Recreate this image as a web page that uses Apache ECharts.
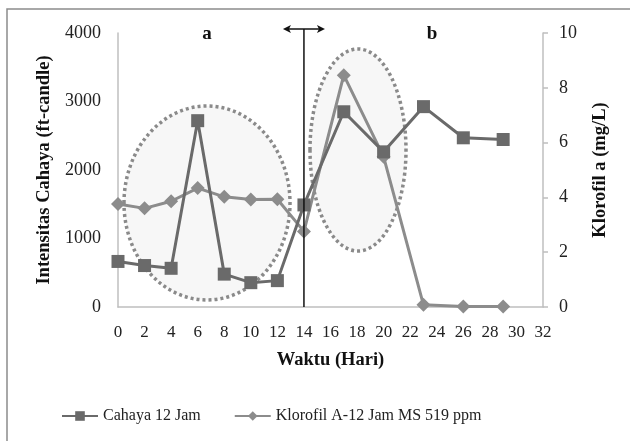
<!DOCTYPE html>
<html><head><meta charset="utf-8">
<script src="https://cdn.jsdelivr.net/npm/echarts@6/dist/echarts.min.js"></script>
<style>html,body{margin:0;padding:0;background:#fff}#c{width:630px;height:441px}</style>
</head><body><div id="c"></div>
<script>
const days = [0, 2, 4, 6, 8, 10, 12, 14, 17, 20, 23, 26, 29];
const cahaya = [665, 605, 565, 2720, 480, 355, 385, 1490, 2850, 2265, 2925, 2470, 2445];
const klorofil = [3.76, 3.6, 3.86, 4.34, 4.02, 3.92, 3.93, 2.76, 8.46, 5.48, 0.08, 0.02, 0.02];
const xTicks = {min: 0, max: 32, step: 2};
const leftTicks = {min: 0, max: 4000, step: 1000};
const rightTicks = {min: 0, max: 10, step: 2};
const seriesNames = ['Cahaya 12 Jam', 'Klorofil A-12 Jam MS 519 ppm'];
const splitDay = 14;

const F = 'Liberation Serif';
const chart = echarts.init(document.getElementById('c'), null, {renderer: 'canvas'});
const axisLine = {show: true, lineStyle: {color: '#bfbfbf', width: 1.5}};
const titleStyle = {fontFamily: F, fontSize: 18.5, fontWeight: 'bold', color: '#111'};
chart.setOption({
  animation: false,
  textStyle: {fontFamily: F},
  grid: {left: 118, right: 87, top: 33, bottom: 134},
  legend: {
    left: 56, top: 403, itemGap: 33, itemWidth: 36, itemHeight: 12,
    textStyle: {fontFamily: F, fontSize: 16, color: '#222'},
    data: seriesNames
  },
  xAxis: {
    type: 'value', min: xTicks.min, max: xTicks.max, interval: xTicks.step,
    axisLine: axisLine, axisTick: {show: false}, splitLine: {show: false},
    axisLabel: {fontFamily: F, fontSize: 17, color: '#222', margin: 17},
    name: 'Waktu (Hari)', nameLocation: 'middle', nameGap: 44,
    nameTextStyle: titleStyle
  },
  yAxis: [{
    type: 'value', min: leftTicks.min, max: leftTicks.max, interval: leftTicks.step,
    axisLine: axisLine, axisTick: {show: false}, splitLine: {show: false},
    axisLabel: {fontFamily: F, fontSize: 18, color: '#222', margin: 17, formatter: v => String(v)},
    name: 'Intensitas Cahaya (ft-candle)', nameLocation: 'middle', nameGap: 59, nameRotate: 90,
    nameTextStyle: titleStyle
  }, {
    type: 'value', min: rightTicks.min, max: rightTicks.max, interval: rightTicks.step,
    position: 'right',
    axisLine: axisLine, axisTick: {show: true, length: 5, lineStyle: {color: '#bfbfbf', width: 1.5}}, splitLine: {show: false},
    axisLabel: {fontFamily: F, fontSize: 18, color: '#222', margin: 16},
    name: 'Klorofil a (mg/L)', nameLocation: 'middle', nameGap: 48, nameRotate: 90,
    nameTextStyle: titleStyle
  }],
  series: [{
    name: seriesNames[0], type: 'line', yAxisIndex: 0,
    data: days.map((d, i) => [d, cahaya[i]]),
    symbol: 'rect', symbolSize: 13,
    lineStyle: {color: '#6a6a6a', width: 3},
    itemStyle: {color: '#6a6a6a'}, z: 4
  }, {
    name: seriesNames[1], type: 'line', yAxisIndex: 1,
    data: days.map((d, i) => [d, klorofil[i]]),
    symbol: 'diamond', symbolSize: 14,
    lineStyle: {color: '#8c8c8c', width: 3},
    itemStyle: {color: '#8c8c8c'}, z: 3
  }]
});

const xs = chart.convertToPixel({xAxisIndex: 0}, splitDay);
const yBot = chart.convertToPixel({yAxisIndex: 0}, 0);
const dotStyle = {fill: 'rgba(240,240,240,0.5)', stroke: '#8a8a8a', lineWidth: 3.5, lineDash: [3, 3]};
chart.setOption({
  graphic: [
    {type: 'rect', shape: {x: 7, y: 9, width: 640, height: 460}, style: {fill: null, stroke: '#8c8c8c', lineWidth: 1.5}, z: 0, silent: true},
    {type: 'ellipse', shape: {cx: 207, cy: 203, rx: 83, ry: 97}, style: dotStyle, z: 1},
    {type: 'ellipse', shape: {cx: 358, cy: 150, rx: 48, ry: 101}, style: dotStyle, z: 1},
    {type: 'line', shape: {x1: xs, y1: 29, x2: xs, y2: yBot}, style: {stroke: '#111', lineWidth: 1.5}, z: 10},
    {type: 'line', shape: {x1: xs - 19, y1: 29, x2: xs + 19, y2: 29}, style: {stroke: '#111', lineWidth: 1.5}, z: 10},
    {type: 'polygon', shape: {points: [[xs - 21, 29], [xs - 13, 25], [xs - 15, 29], [xs - 13, 33]]}, style: {fill: '#111'}, z: 10},
    {type: 'polygon', shape: {points: [[xs + 21, 29], [xs + 13, 25], [xs + 15, 29], [xs + 13, 33]]}, style: {fill: '#111'}, z: 10},
    {type: 'text', x: 207, y: 34, style: {text: 'a', font: 'bold 19px "Liberation Serif"', fill: '#111', align: 'center', verticalAlign: 'middle'}, z: 10},
    {type: 'text', x: 432, y: 34, style: {text: 'b', font: 'bold 19px "Liberation Serif"', fill: '#111', align: 'center', verticalAlign: 'middle'}, z: 10}
  ]
});
</script></body></html>
